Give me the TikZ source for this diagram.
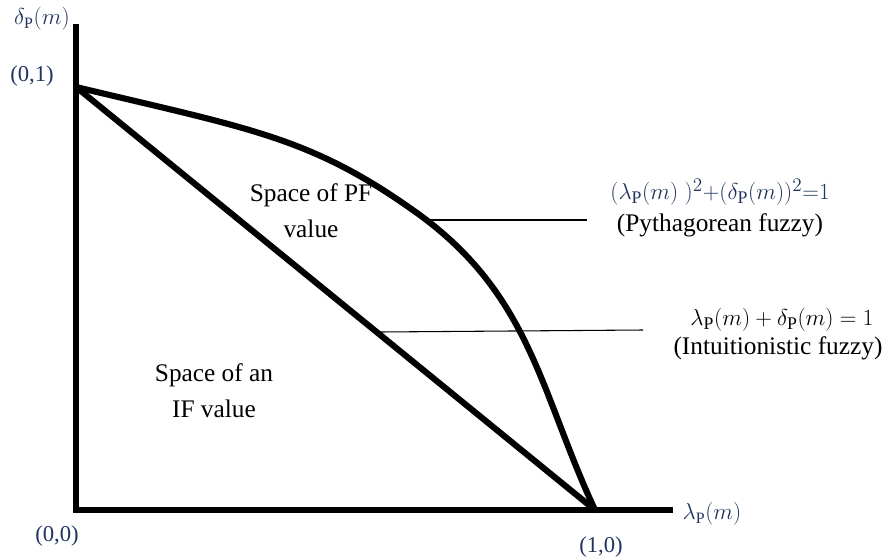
\documentclass[tikz,border=0pt]{standalone}
\usepackage{fontspec}
\setmainfont{Liberation Serif}
\definecolor{labblue}{RGB}{31,52,96}
\begin{document}
\begin{tikzpicture}[x=0.75pt,y=-0.75pt,
  axis/.style={line width=5pt},
  thick curve/.style={line width=4.6pt},
  leader/.style={line width=0.8pt},
  lab/.style={text=labblue,font=\fontsize{17}{20}\selectfont,inner sep=0pt},
  txt/.style={font=\fontsize{19}{27}\selectfont,align=center,inner sep=0pt}]
\useasboundingbox (0,0) rectangle (896,557);
% named points
\coordinate (O) at (76,510);
\coordinate (Y1) at (76,87);
\coordinate (X1) at (595,510);
\coordinate (M) at (417,213);
\coordinate (Ytop) at (76,24);
\coordinate (Xend) at (673,510);
% axes
\draw[axis] (Ytop) -- (76,513);
\draw[axis] (73,510) -- (Xend);
% IF line
\draw[thick curve, line cap=round] (Y1) -- (X1);
% PF curve
\draw[thick curve, line cap=round, line join=round] (Y1) .. controls (251,129) and (311,137) .. (M)
  .. controls (531,295) and (540,392) .. (X1);
% labels
\node[lab] (dl) at (42,19) {$\delta_{\mathrm{P}}(m)$};
\node[lab] (l01) at (32,76) {(0,1)};
\node[lab] (l00) at (57,536) {(0,0)};
\node[lab] (l10) at (601,547) {(1,0)};
\node[lab] (ll) at (712,514) {$\lambda_{\mathrm{P}}(m)$};
% region texts
\node[txt] (pfspace) at (311,211) {Space of PF\\value};
\node[txt] (ifspace) at (214,391) {Space of an\\IF value};
% formulas
\node[txt,text=labblue] (pff) at (720,192) {$(\lambda_{\mathrm{P}}(m)\;)^2{+}(\delta_{\mathrm{P}}(m))^2{=}1$};
\node[txt] (pfn) at (720,225) {(Pythagorean fuzzy)};
\node[txt] (iff) at (782,320) {$\lambda_{\mathrm{P}}(m) + \delta_{\mathrm{P}}(m) = 1$};
\node[txt] (ifn) at (778,348) {(Intuitionistic fuzzy)};
% leaders
\coordinate (pfa) at (428,220);
\coordinate (pfb) at (587,220);
\coordinate (ifa) at (380,332);
\coordinate (ifb) at (643,330);
\draw[leader] (pfa) -- (pfb);
\draw[leader] (ifa) -- (ifb);
\end{tikzpicture}
\end{document}
